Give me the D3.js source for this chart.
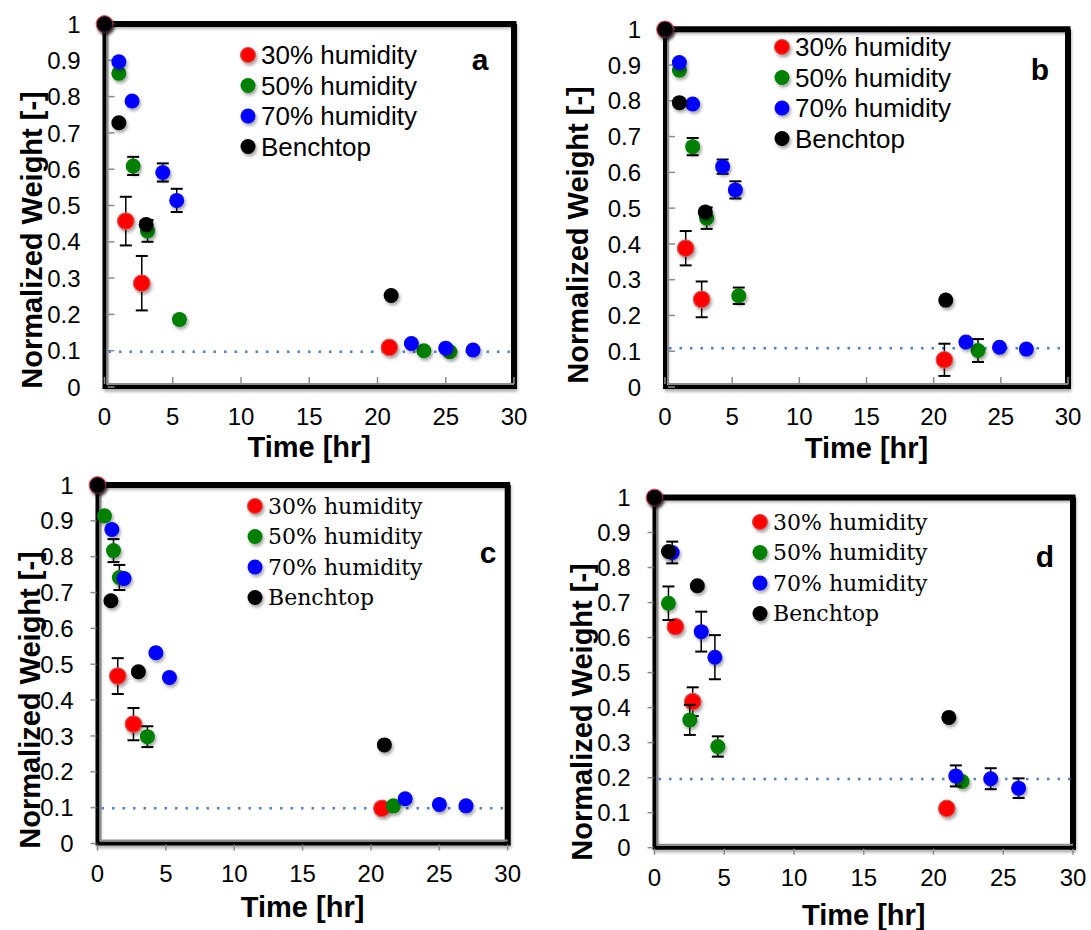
<!DOCTYPE html>
<html>
<head>
<meta charset="utf-8">
<script src="https://cdn.jsdelivr.net/npm/d3@7"></script>
<style>body{margin:0;background:#fff}</style>
</head>
<body>
<svg id="chart"></svg>
<script>
const width = 1091, height = 930;
const svg = d3.select("#chart").attr("width", width).attr("height", height);

// each point: [time hr, normalized weight, error bar (+/-)]
const a30 = [[0,1,0],[1.56,0.457,0.067],[2.73,0.286,0.075],[20.87,0.109,0]];
const a50 = [[0,1,0],[1.05,0.864,0],[2.1,0.609,0.025],[3.15,0.43,0.03],[5.49,0.186,0.01],[23.4,0.1,0],[25.3,0.097,0]];
const a70 = [[0,1,0],[1.05,0.896,0],[2.02,0.788,0],[4.27,0.591,0.025],[5.29,0.514,0.032],[22.48,0.12,0],[25.0,0.107,0],[27.0,0.102,0]];
const aBench = [[0,1,0],[1.05,0.728,0],[3.05,0.448,0],[21.0,0.252,0]];
const aFinal = 0.097;

const b30 = [[0,1,0],[1.54,0.388,0.048],[2.73,0.245,0.05],[20.8,0.076,0.045]];
const b50 = [[0,1,0],[1.07,0.886,0],[2.06,0.672,0.024],[3.1,0.472,0.03],[5.49,0.255,0.023],[23.3,0.102,0.032]];
const b70 = [[0,1,0],[1.07,0.907,0],[2.06,0.791,0],[4.29,0.616,0.02],[5.24,0.551,0.024],[22.4,0.126,0],[24.9,0.111,0],[26.9,0.106,0]];
const bBench = [[0,1,0],[1.07,0.795,0],[3.0,0.489,0.01],[20.9,0.243,0]];
const bFinal = 0.108;

const c30 = [[0,1,0],[1.48,0.467,0.05],[2.63,0.333,0.045],[20.8,0.098,0]];
const c50 = [[0,1,0],[0.51,0.914,0],[1.17,0.817,0.032],[1.6,0.742,0.035],[3.65,0.298,0.029],[21.64,0.105,0]];
const c70 = [[0,1,0],[1.05,0.876,0],[1.94,0.739,0],[4.27,0.532,0],[5.26,0.463,0],[22.5,0.125,0],[25.0,0.109,0],[26.95,0.105,0]];
const cBench = [[0,1,0],[0.98,0.677,0],[2.99,0.479,0],[20.98,0.275,0]];
const cFinal = 0.098;

const d30 = [[0,1,0],[1.5,0.631,0.012],[2.74,0.417,0.041],[20.95,0.112,0]];
const d50 = [[0,1,0],[1.0,0.698,0.048],[2.53,0.365,0.043],[4.54,0.289,0.029],[22.05,0.189,0]];
const d70 = [[0,1,0],[1.27,0.843,0.031],[3.35,0.617,0.057],[4.33,0.544,0.063],[21.6,0.205,0.03],[24.1,0.197,0.03],[26.1,0.170,0.028]];
const dBench = [[0,1,0],[1.0,0.846,0],[3.07,0.748,0],[21.1,0.372,0]];
const dFinal = 0.196;

const seriesNames = ["30% humidity", "50% humidity", "70% humidity", "Benchtop"];
const seriesColors = ["#ff0000", "#008000", "#0000ff", "#000000"];
const xTicks = [0, 5, 10, 15, 20, 25, 30];
const yTicks = [0, 0.1, 0.2, 0.3, 0.4, 0.5, 0.6, 0.7, 0.8, 0.9, 1];

const defs = svg.append("defs");
const shadow = defs.append("filter").attr("id", "shadow")
    .attr("x", "-50%").attr("y", "-50%").attr("width", "200%").attr("height", "200%");
shadow.append("feDropShadow").attr("dx", 1.5).attr("dy", 2.5).attr("stdDeviation", 1.5)
    .attr("flood-color", "#000").attr("flood-opacity", 0.35);

const sans = "Arial, 'Liberation Sans', sans-serif";
const serif = "'DejaVu Serif', serif";

const panels = [
    {letter: "a", data: [a30, a50, a70, aBench], final: aFinal, left: 104.5, right: 514, top: 24, bottom: 387,
     ticksOut: false, legendX: 248, legendY: 55, legendFont: sans, legendSize: 26, letterX: 480, letterY: 70,
     yTitleX: 42, yTitleY: 240, xTitleY: 457},
    {letter: "b", data: [b30, b50, b70, bBench], final: bFinal, left: 665, right: 1068, top: 29.3, bottom: 387,
     ticksOut: false, legendX: 782, legendY: 47, legendFont: sans, legendSize: 26, letterX: 1040, letterY: 80,
     yTitleX: 588, yTitleY: 235, xTitleY: 458},
    {letter: "c", data: [c30, c50, c70, cBench], final: cFinal, left: 97.5, right: 507.7, top: 485, bottom: 843.5,
     ticksOut: true, legendX: 255, legendY: 506, legendFont: serif, legendSize: 22, letterX: 488, letterY: 563,
     yTitleX: 40, yTitleY: 700, xTitleY: 917},
    {letter: "d", data: [d30, d50, d70, dBench], final: dFinal, left: 654.5, right: 1073, top: 497.5, bottom: 847.7,
     ticksOut: true, legendX: 760, legendY: 522, legendFont: serif, legendSize: 22, letterX: 1045, letterY: 567,
     yTitleX: 592, yTitleY: 712, xTitleY: 925}
];

panels.forEach(p => {
    const x = d3.scaleLinear().domain([0, 30]).range([p.left, p.right]);
    const y = d3.scaleLinear().domain([0, 1]).range([p.bottom, p.top]);
    const g = svg.append("g");

    // frame: heavy black box, grey axis lines inside left/bottom
    g.append("rect").attr("x", p.left).attr("y", p.top)
        .attr("width", p.right - p.left).attr("height", p.bottom - p.top)
        .attr("fill", "none").attr("stroke", "#000").attr("stroke-width", 4)
        .attr("filter", "url(#shadow)");
    g.append("line").attr("x1", p.left).attr("x2", p.right + 2.5).attr("y1", p.top).attr("y2", p.top)
        .attr("stroke", "#000").attr("stroke-width", 6);
    g.append("line").attr("x1", p.right).attr("x2", p.right).attr("y1", p.top).attr("y2", p.bottom + 2)
        .attr("stroke", "#000").attr("stroke-width", 6);
    g.append("line").attr("x1", p.left + 3).attr("x2", p.left + 3).attr("y1", p.top).attr("y2", p.bottom - 3)
        .attr("stroke", "#8c8c8c").attr("stroke-width", 2);
    g.append("line").attr("x1", p.left + 3).attr("x2", p.right).attr("y1", p.bottom - 3).attr("y2", p.bottom - 3)
        .attr("stroke", "#8c8c8c").attr("stroke-width", 2);

    // ticks
    const tl = p.ticksOut ? -7 : 7;
    g.selectAll(".yt").data(yTicks).enter().append("line")
        .attr("x1", p.left + (p.ticksOut ? -1 : 3)).attr("x2", p.left + tl + (p.ticksOut ? 0 : 3))
        .attr("y1", d => y(d)).attr("y2", d => y(d))
        .attr("stroke", "#8c8c8c").attr("stroke-width", 1.5);
    g.selectAll(".xt").data(xTicks).enter().append("line")
        .attr("x1", d => x(d)).attr("x2", d => x(d))
        .attr("y1", p.bottom + (p.ticksOut ? 1 : -3)).attr("y2", p.bottom - tl + (p.ticksOut ? 0 : -3))
        .attr("stroke", "#8c8c8c").attr("stroke-width", 1.5);

    // tick labels
    g.selectAll(".yl").data(yTicks).enter().append("text")
        .attr("x", p.left - 24).attr("y", d => y(d)).attr("dy", "0.36em")
        .attr("text-anchor", "end").attr("font-family", sans).attr("font-size", 24)
        .text(d => d3.format("")(Math.round(d * 10) / 10));
    g.selectAll(".xl").data(xTicks).enter().append("text")
        .attr("x", d => x(d)).attr("y", p.bottom + 38)
        .attr("text-anchor", "middle").attr("font-family", sans).attr("font-size", 24)
        .text(d => d);

    // axis titles
    g.append("text").attr("x", (p.left + p.right) / 2).attr("y", p.xTitleY)
        .attr("text-anchor", "middle").attr("font-family", sans).attr("font-weight", "bold")
        .attr("font-size", 29).text("Time [hr]");
    g.append("text").attr("transform", `translate(${p.yTitleX},${p.yTitleY}) rotate(-90)`)
        .attr("text-anchor", "middle").attr("font-family", sans).attr("font-weight", "bold")
        .attr("font-size", 29).text("Normalized Weight [-]");

    // dotted final-weight line
    g.append("line").attr("x1", x(0) + 4).attr("x2", x(30)).attr("y1", y(p.final)).attr("y2", y(p.final))
        .attr("stroke", "#4f81bd").attr("stroke-width", 2.5).attr("stroke-dasharray", "2.5,8");

    // series: error bars then markers
    p.data.forEach((s, i) => {
        const sg = g.append("g");
        const eb = s.filter(d => d[2] > 0);
        sg.selectAll(".eb").data(eb).enter().append("line")
            .attr("x1", d => x(d[0])).attr("x2", d => x(d[0]))
            .attr("y1", d => y(d[1] - d[2])).attr("y2", d => y(d[1] + d[2]))
            .attr("stroke", "#000").attr("stroke-width", 1.5);
        sg.selectAll(".cap").data(eb.flatMap(d => [[d[0], d[1] - d[2]], [d[0], d[1] + d[2]]])).enter().append("line")
            .attr("x1", d => x(d[0]) - 6).attr("x2", d => x(d[0]) + 6)
            .attr("y1", d => y(d[1])).attr("y2", d => y(d[1]))
            .attr("stroke", "#000").attr("stroke-width", 2);
        sg.selectAll("circle").data(s).enter().append("circle")
            .attr("cx", d => x(d[0])).attr("cy", d => y(d[1]))
            .attr("r", i === 0 ? 8.3 : 7.5)
            .attr("fill", seriesColors[i])
            .attr("stroke", i === 0 ? "#d9534f" : "none").attr("stroke-width", 1.2)
            .attr("filter", "url(#shadow)");
    });

    // legend
    const lg = g.append("g");
    seriesNames.forEach((name, i) => {
        const ly = p.legendY + i * 30.5;
        lg.append("circle").attr("cx", p.legendX).attr("cy", ly).attr("r", 7.5)
            .attr("fill", seriesColors[i]).attr("stroke", i === 0 ? "#d9534f" : "none").attr("stroke-width", 1.2)
            .attr("filter", "url(#shadow)");
        lg.append("text").attr("x", p.legendX + 13).attr("y", ly).attr("dy", "0.36em")
            .attr("font-family", p.legendFont).attr("font-size", p.legendSize).text(name);
    });

    g.append("text").attr("x", p.letterX).attr("y", p.letterY).attr("text-anchor", "middle")
        .attr("font-family", sans).attr("font-weight", "bold").attr("font-size", 30).text(p.letter);
});
</script>
</body>
</html>
